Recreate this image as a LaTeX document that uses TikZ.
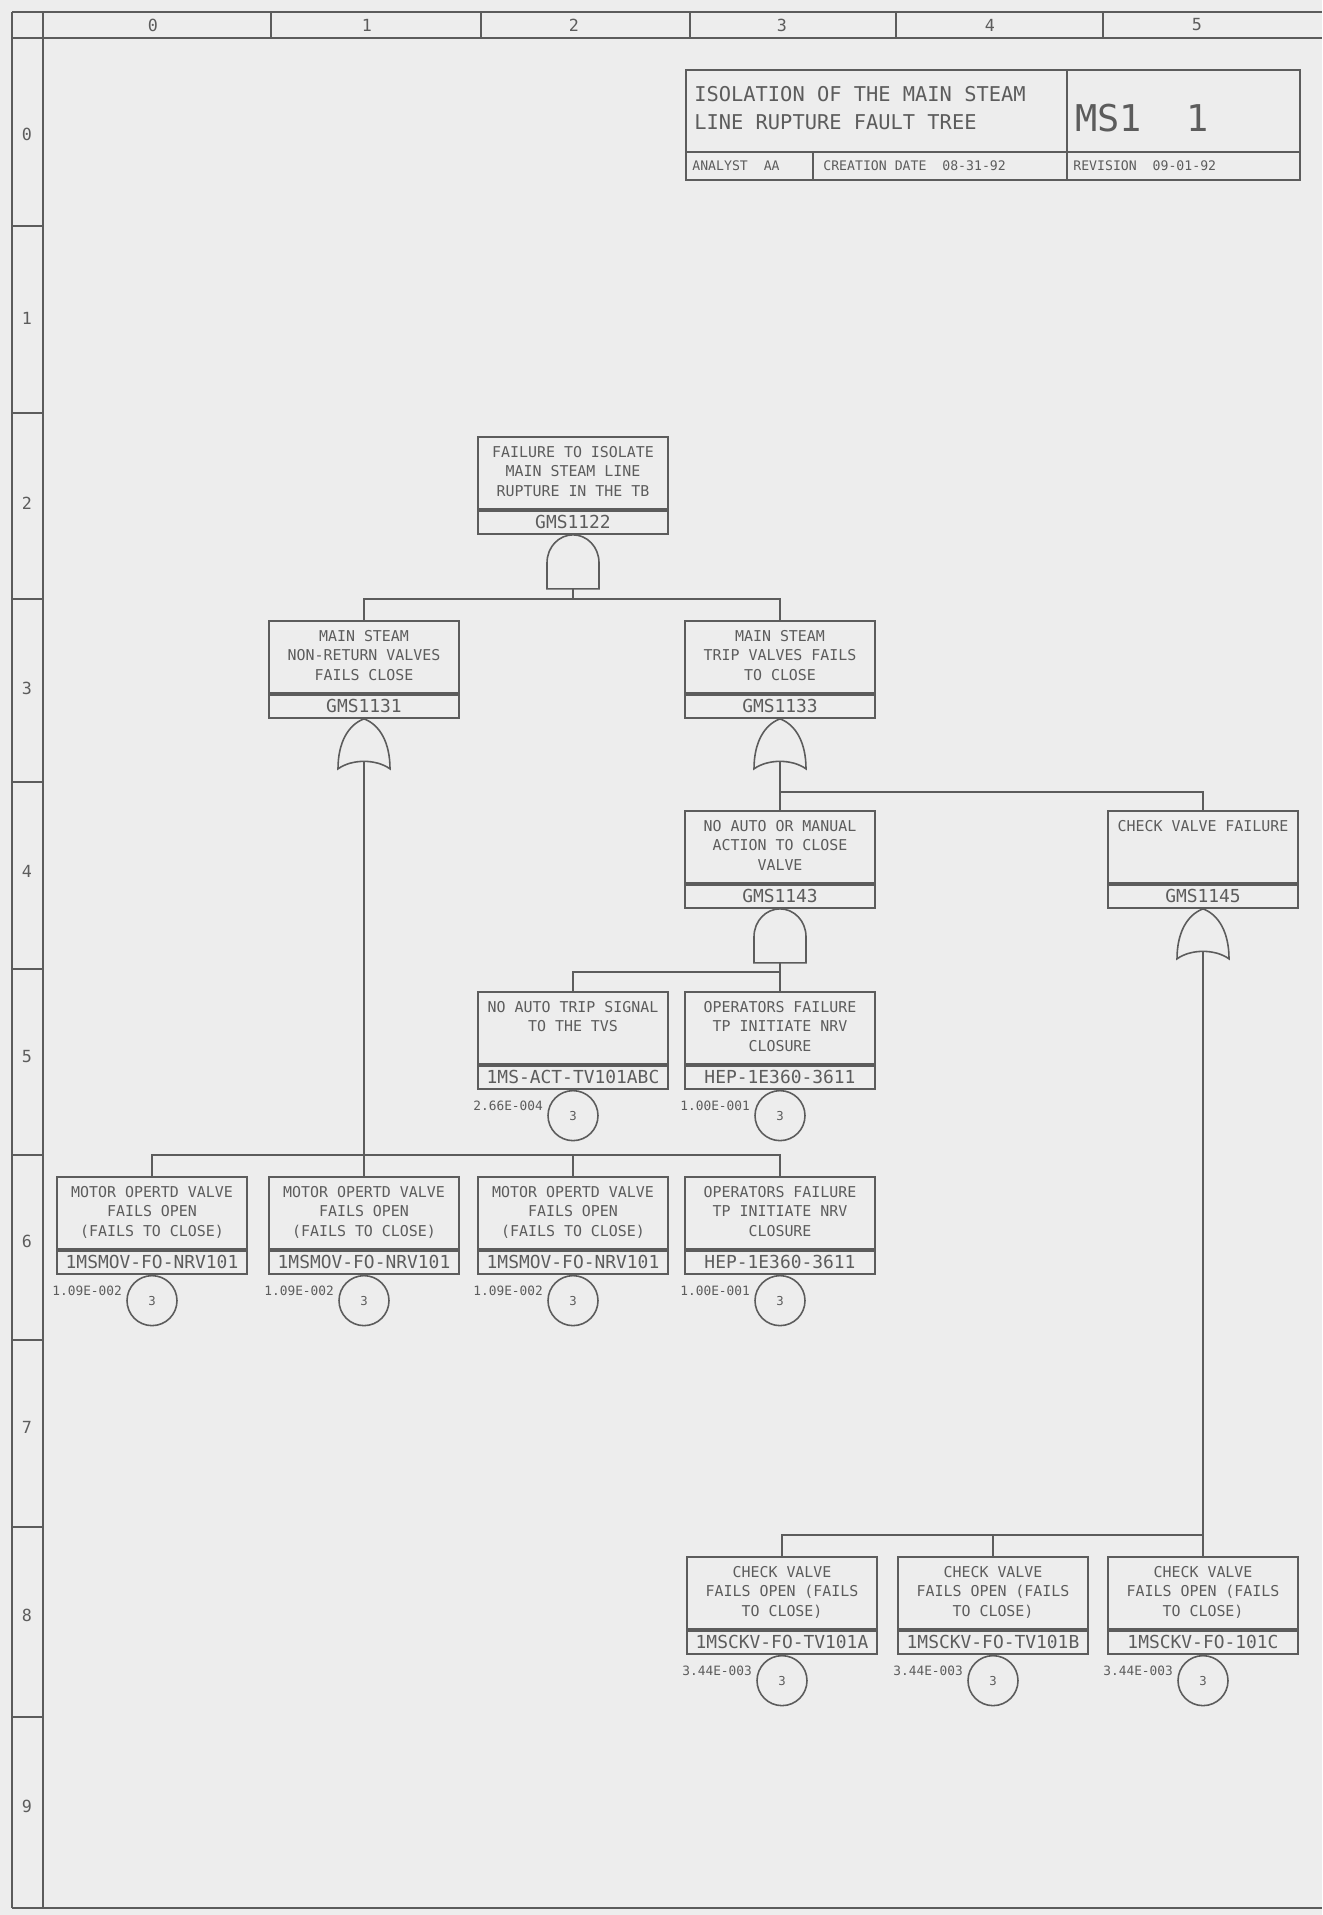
\documentclass[tikz,border=0pt]{standalone}
\usepackage{fontspec}
\newfontfamily\plotfont{DejaVu Sans Mono}
\definecolor{paper}{gray}{0.93}
\definecolor{ink}{gray}{0.36}

\tikzset{
  frame/.style={draw=ink,line width=1pt},
  link/.style={draw=ink,line width=0.8pt},
  gate/.style={draw=ink,line width=0.9pt},
  desc/.style={draw=ink,line width=1.1pt,minimum width=3.8cm,minimum height=1.44cm,inner sep=0pt,anchor=north},
  desctext/.style={text=ink,inner sep=0pt,anchor=north,align=center,font=\plotfont\fontsize{8.5}{11}\selectfont},
  idbox/.style={draw=ink,line width=1.1pt,minimum width=3.8cm,minimum height=0.46cm,inner sep=0pt,anchor=north,text=ink,font=\plotfont\fontsize{10.2}{12}\selectfont},
  basic/.style={circle,draw=ink,line width=0.9pt,minimum size=1cm,inner sep=0pt,anchor=north,text=ink,font=\plotfont\fontsize{7}{8}\selectfont},
  prob/.style={anchor=east,inner sep=0pt,text=ink,font=\plotfont\fontsize{7.3}{8}\selectfont},
  gridlabel/.style={text=ink,inner sep=0pt,font=\plotfont\fontsize{9.5}{10}\selectfont},
  andgate/.pic={
    \draw[gate] (-26,54) -- (-26,28) .. controls (-26,12) and (-14,0) .. (0,0) .. controls (14,0) and (26,12) .. (26,28) -- (26,54) -- cycle;
    \coordinate (-out) at (0,54);
  },
  orgate/.pic={
    \draw[gate] (0,0) .. controls (-16,6) and (-26,24) .. (-26,50) .. controls (-12,40) and (12,40) .. (26,50) .. controls (26,24) and (16,6) .. (0,0) -- cycle;
    \coordinate (-out) at (0,42.5);
  }
}

\begin{document}
\begin{tikzpicture}[x=0.02cm,y=-0.02cm]
  \fill[paper] (0,0) rectangle (1322,1915);
  \useasboundingbox (0,0) rectangle (1322,1915);

  \draw[frame] (12,12) -- (1322,12) (12,38) -- (1322,38) (12,12) -- (12,1908) (43,12) -- (43,1908) (12,1908) -- (1322,1908);
  \foreach \x in {271,481,690,896,1103}
    \draw[frame] (\x,12) -- (\x,38);
  \foreach \y in {226,413,599,782,969,1155,1340,1527,1717}
    \draw[frame] (12,\y) -- (43,\y);
  \foreach \c/\x in {0/153,1/367,2/574,3/782,4/990,5/1197}
    \node[gridlabel] (col\c) at (\x,25) {\c};
  \foreach \r/\y in {0/134,1/318,2/503,3/688,4/871,5/1057,6/1241,7/1427,8/1615,9/1806}
    \node[gridlabel] (row\r) at (27,\y) {\r};

  \draw[frame] (686,70) rectangle (1300,180);
  \draw[frame] (686,152) -- (1300,152) (1067,70) -- (1067,180) (813,152) -- (813,180);
  \node[anchor=north west,inner sep=0pt,text=ink,align=left,font=\plotfont\fontsize{11.6}{16}\selectfont] (title) at (694,86) {ISOLATION OF THE MAIN STEAM\\LINE RUPTURE FAULT TREE};
  \node[anchor=west,inner sep=0pt,text=ink,font=\plotfont\fontsize{21}{24}\selectfont] (page) at (1075,118) {MS1\ \ 1};
  \node[anchor=west,inner sep=0pt,text=ink,font=\plotfont\fontsize{7.5}{8}\selectfont] (analyst) at (692,166) {ANALYST\ \ AA};
  \node[anchor=west,inner sep=0pt,text=ink,font=\plotfont\fontsize{7.5}{8}\selectfont] (created) at (823,166) {CREATION DATE\ \ 08-31-92};
  \node[anchor=west,inner sep=0pt,text=ink,font=\plotfont\fontsize{7.5}{8}\selectfont] (revised) at (1073,166) {REVISION\ \ 09-01-92};

  \foreach \n/\x/\y/\txt/\idt in {
    g1122/573/436/{FAILURE TO ISOLATE\\MAIN STEAM LINE\\RUPTURE IN THE TB}/GMS1122,
    g1131/364/620/{MAIN STEAM\\NON-RETURN VALVES\\FAILS CLOSE}/GMS1131,
    g1133/780/620/{MAIN STEAM\\TRIP VALVES FAILS\\TO CLOSE}/GMS1133,
    g1143/780/810/{NO AUTO OR MANUAL\\ACTION TO CLOSE\\VALVE}/GMS1143,
    g1145/1203/810/{CHECK VALVE FAILURE}/GMS1145,
    e101abc/573/991/{NO AUTO TRIP SIGNAL\\TO THE TVS}/1MS-ACT-TV101ABC,
    ehep1/780/991/{OPERATORS FAILURE\\TP INITIATE NRV\\CLOSURE}/HEP-1E360-3611,
    enrv1/152/1176/{MOTOR OPERTD VALVE\\FAILS OPEN\\(FAILS TO CLOSE)}/1MSMOV-FO-NRV101,
    enrv2/364/1176/{MOTOR OPERTD VALVE\\FAILS OPEN\\(FAILS TO CLOSE)}/1MSMOV-FO-NRV101,
    enrv3/573/1176/{MOTOR OPERTD VALVE\\FAILS OPEN\\(FAILS TO CLOSE)}/1MSMOV-FO-NRV101,
    ehep2/780/1176/{OPERATORS FAILURE\\TP INITIATE NRV\\CLOSURE}/HEP-1E360-3611,
    eckva/782/1556/{CHECK VALVE\\FAILS OPEN (FAILS\\TO CLOSE)}/1MSCKV-FO-TV101A,
    eckvb/993/1556/{CHECK VALVE\\FAILS OPEN (FAILS\\TO CLOSE)}/1MSCKV-FO-TV101B,
    eckvc/1203/1556/{CHECK VALVE\\FAILS OPEN (FAILS\\TO CLOSE)}/1MSCKV-FO-101C}
  {
    \node[desc] (\n) at (\x,\y) {};
    \node[desctext] (\n-txt) at ([yshift=-0.2cm]\n.north) {\txt};
    \node[idbox] (\n-id) at (\n.south) {\idt};
  }

  \foreach \n/\p in {
    e101abc/2.66E-004,
    ehep1/1.00E-001,
    enrv1/1.09E-002,
    enrv2/1.09E-002,
    enrv3/1.09E-002,
    ehep2/1.00E-001,
    eckva/3.44E-003,
    eckvb/3.44E-003,
    eckvc/3.44E-003}
  {
    \node[basic] (\n-c) at (\n-id.south) {3};
    \node[prob] (\n-p) at ([xshift=-0.08cm,yshift=0.2cm]\n-c.west) {\p};
  }

  \pic (a1122) at (g1122-id.south) {andgate};
  \pic (o1131) at (g1131-id.south) {orgate};
  \pic (o1133) at (g1133-id.south) {orgate};
  \pic (a1143) at (g1143-id.south) {andgate};
  \pic (o1145) at (g1145-id.south) {orgate};

  \coordinate (bar2) at (573,599);
  \coordinate (bar4) at (780,792);
  \coordinate (bar5) at (780,972);
  \coordinate (bar6) at (364,1155);
  \coordinate (bar8) at (1203,1535);

  \draw[link] (a1122-out) -- (bar2);
  \draw[link] (g1131.north) |- (bar2) -| (g1133.north);
  \draw[link] (o1133-out) -- (g1143.north);
  \draw[link] (bar4) -| (g1145.north);
  \draw[link] (a1143-out) -- (ehep1.north);
  \draw[link] (bar5) -| (e101abc.north);
  \draw[link] (o1131-out) -- (enrv2.north);
  \draw[link] (enrv1.north) |- (bar6) -| (ehep2.north);
  \draw[link] (bar6 -| enrv3.north) -- (enrv3.north);
  \draw[link] (o1145-out) -- (eckvc.north);
  \draw[link] (bar8) -| (eckva.north);
  \draw[link] (bar8 -| eckvb.north) -- (eckvb.north);
\end{tikzpicture}
\end{document}
